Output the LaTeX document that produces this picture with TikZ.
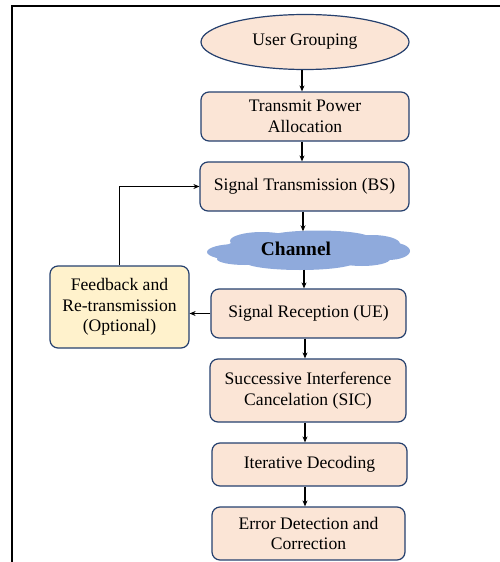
\documentclass[tikz,border=0pt]{standalone}
\usepackage{fontspec}
\setmainfont{Liberation Serif}
\usetikzlibrary{shapes.geometric,arrows.meta}
\definecolor{peach}{HTML}{FBE5D6}
\definecolor{cream}{HTML}{FFF2CC}
\definecolor{navy}{HTML}{25406E}
\definecolor{cloudblue}{HTML}{8FAADC}
\tikzset{
  proc/.style={draw=navy, line width=1.2pt, fill=peach, rounded corners=8pt,
    inner sep=0pt, align=center, font=\fontsize{17.6}{20.6}\selectfont},
  fbbox/.style={proc, fill=cream},
  term/.style={draw=navy, line width=1.2pt, fill=peach, ellipse, inner sep=0pt,
    font=\fontsize{17.6}{20.6}\selectfont},
  arr/.style={line width=1.1pt, -{Stealth[length=6pt,width=5pt]}},
  puff/.style={fill=cloudblue},
}
\begin{document}
\begin{tikzpicture}[x=1pt,y=-1pt]
\useasboundingbox (0,0) rectangle (500,562);
\draw[line width=2.2pt] (500,6) -- (12,6) -- (12,563);
\node[term, minimum width=208pt, minimum height=55pt] (ug) at (305,42) {User Grouping};
\node[proc, minimum width=208pt, minimum height=49pt] (tpa) at (305,116.5) {Transmit Power\\Allocation};
\node[proc, minimum width=209pt, minimum height=49pt] (st) at (304.5,186.5) {Signal Transmission (BS)};
% cloud
\node[ellipse, minimum width=202pt, minimum height=38pt, inner sep=0pt] (ch) at (308,250.5) {};
\fill[puff] (305,250) ellipse [x radius=82, y radius=16];
\fill[puff] (236,252) ellipse [x radius=29, y radius=8];
\fill[puff] (262,241) ellipse [x radius=32, y radius=9];
\fill[puff] (318,238) ellipse [x radius=52, y radius=7.5];
\fill[puff] (372,244) ellipse [x radius=28, y radius=9];
\fill[puff] (388,251) ellipse [x radius=22, y radius=9];
\fill[puff] (300,262) ellipse [x radius=55, y radius=8];
\fill[puff] (362,259) ellipse [x radius=28, y radius=7];
\fill[puff] (245,259) ellipse [x radius=28, y radius=6];
\node[font=\bfseries\fontsize{19.4}{22}\selectfont] (cht) at (296,249) {Channel};
\node[proc, minimum width=195pt, minimum height=49pt] (sr) at (308.5,313.5) {Signal Reception (UE)};
\node[fbbox, minimum width=139pt, minimum height=82pt] (fb) at (119.5,307) {Feedback and\\Re-transmission\\(Optional)};
\node[proc, minimum width=196pt, minimum height=63pt] (sic) at (308,390.5) {Successive Interference\\Cancelation (SIC)};
\node[proc, minimum width=195pt, minimum height=43pt] (id) at (309.5,464.5) {Iterative Decoding};
\node[proc, minimum width=193pt, minimum height=53pt] (ed) at (308.5,533.5) {Error Detection and\\Correction};
\coordinate (a1) at (302,0);
\draw[arr] (ug.south -| a1) -- (tpa.north -| a1);
\draw[arr] (tpa.south -| a1) -- (st.north -| a1);
\coordinate (a2) at (303,0);
\draw[arr] (st.south -| a2) -- (a2 |- ch.north);
\coordinate (a3) at (304,0);
\draw[arr] (a3 |- ch.south) -- (sr.north -| a3);
\coordinate (a4) at (305,0);
\draw[arr] (sr.south -| a4) -- (sic.north -| a4);
\draw[arr] (sic.south -| a4) -- (id.north -| a4);
\draw[arr] (id.south -| a4) -- (ed.north -| a4);
\draw[arr] (sr.west) -- (fb.east |- sr.west);
\draw[arr] (fb.north) |- (st.west);
\end{tikzpicture}
\end{document}
